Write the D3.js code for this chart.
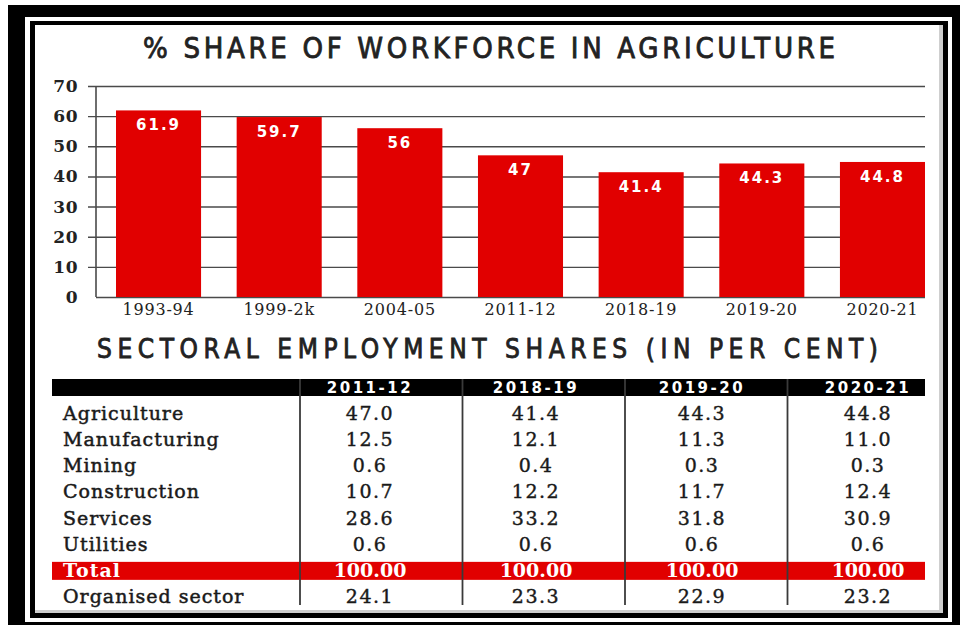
<!DOCTYPE html>
<html>
<head>
<meta charset="utf-8">
<script src="https://cdn.jsdelivr.net/npm/d3@7"></script>
<style>
  body { margin: 0; background: #fff; }
  svg { display: block; }
</style>
</head>
<body>
<div id="chartid"></div>
<script>
"use strict"

// bar chart data
var periods = ["1993-94","1999-2k","2004-05","2011-12","2018-19","2019-20","2020-21"];
var agriShare = [61.9, 59.7, 56, 47, 41.4, 44.3, 44.8];
var yTicks = [0, 10, 20, 30, 40, 50, 60, 70];

// table data
var tableYears = ["2011-12","2018-19","2019-20","2020-21"];
var sectors = ["Agriculture","Manufacturing","Mining","Construction","Services","Utilities","Total","Organised sector"];
var agriculture   = [47.0, 41.4, 44.3, 44.8];
var manufacturing = [12.5, 12.1, 11.3, 11.0];
var mining        = [0.6, 0.4, 0.3, 0.3];
var construction  = [10.7, 12.2, 11.7, 12.4];
var services      = [28.6, 33.2, 31.8, 30.9];
var utilities     = [0.6, 0.6, 0.6, 0.6];
var total         = [100, 100, 100, 100];
var organised     = [24.1, 23.3, 22.9, 23.2];

var RED = "#e10000";
var serif = "'DejaVu Serif', serif";
var sans = "'DejaVu Sans', sans-serif";
var cond = "'DejaVu Sans Condensed', 'DejaVu Sans', sans-serif";

var svg = d3.select("#chartid").append("svg")
  .attr("width", 960)
  .attr("height", 625);

// frame (double black border)
svg.append("rect").attr("x", 8).attr("y", 5).attr("width", 952).attr("height", 620).attr("fill", "#000");
svg.append("rect").attr("x", 25).attr("y", 17).attr("width", 927).attr("height", 605).attr("fill", "#fff");
svg.append("rect").attr("x", 30).attr("y", 21).attr("width", 918).attr("height", 597).attr("fill", "#000");
svg.append("rect").attr("x", 35).attr("y", 25).attr("width", 908).attr("height", 588).attr("fill", "#fff");
// soft inner shadow on right / bottom
svg.append("rect").attr("x", 939).attr("y", 25).attr("width", 4).attr("height", 588).attr("fill", "#cfcfcf");
svg.append("rect").attr("x", 35).attr("y", 610).attr("width", 908).attr("height", 3).attr("fill", "#cfcfcf");

// title
svg.append("text")
  .attr("x", 489).attr("y", 58)
  .attr("text-anchor", "middle")
  .attr("font-family", cond)
  .attr("font-size", 29)
  .attr("fill", "#222")
  .attr("stroke", "#222")
  .attr("stroke-width", 0.8)
  .attr("textLength", 692)
  .attr("lengthAdjust", "spacing")
  .text("% SHARE OF WORKFORCE IN AGRICULTURE");

// scales
var scale_y = d3.scaleLinear()
  .domain([0, 70])
  .range([297, 86]);

var scale_x = d3.scaleBand()
  .domain(periods)
  .range([116, 925])
  .paddingInner(0.295)
  .paddingOuter(0);

// gridlines + y labels
var gridRight = 925, gridLeft = 88, axisX = 96;
var yAxis = svg.append("g")
  .attr("transform", "translate(" + gridRight + ",0)")
  .call(d3.axisLeft(scale_y).tickValues(yTicks).tickSize(gridRight - gridLeft).tickPadding(10));
yAxis.select(".domain").remove();
yAxis.selectAll(".tick line")
  .attr("stroke", "#4a4a4a")
  .attr("stroke-width", 1.4)
  .filter(function(d) { return d === 0; })
  .attr("x2", -(gridRight - axisX));
yAxis.selectAll(".tick text")
  .attr("font-family", serif)
  .attr("font-weight", "bold")
  .attr("font-size", 17)
  .attr("letter-spacing", 0.5)
  .attr("fill", "#222");

// vertical axis line
svg.append("line")
  .attr("x1", axisX).attr("x2", axisX)
  .attr("y1", scale_y(70)).attr("y2", scale_y(0))
  .attr("stroke", "#4a4a4a")
  .attr("stroke-width", 1.6);

// bars
svg.selectAll(".bar")
  .data(agriShare)
  .enter().append("rect")
  .attr("class", "bar")
  .attr("x", function(d, i) { return scale_x(periods[i]); })
  .attr("y", function(d) { return scale_y(d); })
  .attr("width", scale_x.bandwidth())
  .attr("height", function(d) { return scale_y(0) - scale_y(d); })
  .attr("fill", RED);

// value labels in bars
svg.selectAll(".barlabel")
  .data(agriShare)
  .enter().append("text")
  .attr("class", "barlabel")
  .attr("x", function(d, i) { return scale_x(periods[i]) + scale_x.bandwidth() / 2; })
  .attr("y", function(d) { return scale_y(d) + 20; })
  .attr("text-anchor", "middle")
  .attr("font-family", sans)
  .attr("font-weight", "bold")
  .attr("font-size", 15)
  .attr("letter-spacing", 2)
  .attr("fill", "#fff")
  .text(function(d) { return String(d); });

// x axis labels
var xAxis = svg.append("g")
  .attr("transform", "translate(0," + scale_y(0) + ")")
  .call(d3.axisBottom(scale_x).tickSize(0).tickPadding(7));
xAxis.select(".domain").remove();
xAxis.selectAll(".tick text")
  .attr("font-family", serif)
  .attr("font-size", 16)
  .attr("letter-spacing", 0.8)
  .attr("fill", "#222");

// ---- table ----
svg.append("text")
  .attr("x", 487.5).attr("y", 358)
  .attr("text-anchor", "middle")
  .attr("font-family", cond)
  .attr("font-size", 26)
  .attr("fill", "#222")
  .attr("stroke", "#222")
  .attr("stroke-width", 0.8)
  .attr("textLength", 781)
  .attr("lengthAdjust", "spacing")
  .text("SECTORAL EMPLOYMENT SHARES (IN PER CENT)");

var tableLeft = 52, tableRight = 925;
var colBand = d3.scaleBand().domain(tableYears).range([300, 950]);
var colText = d3.scalePoint().domain(tableYears).range([370, 868]);
var rowY = d3.scalePoint().domain(sectors).range([420, 603]);

var rowsData = [agriculture, manufacturing, mining, construction, services, utilities, total, organised];

// header bar
svg.append("rect")
  .attr("x", tableLeft).attr("y", 379)
  .attr("width", tableRight - tableLeft).attr("height", 17)
  .attr("fill", "#000");

// total bar
svg.append("rect")
  .attr("x", tableLeft).attr("y", rowY("Total") - 15)
  .attr("width", tableRight - tableLeft).attr("height", 18)
  .attr("fill", RED);

// column separators
svg.selectAll(".sep")
  .data(tableYears)
  .enter().append("line")
  .attr("class", "sep")
  .attr("x1", function(d) { return colBand(d); })
  .attr("x2", function(d) { return colBand(d); })
  .attr("y1", 379).attr("y2", 605)
  .attr("stroke", "#3a3a3a")
  .attr("stroke-width", 1.8);

// header labels
svg.selectAll(".hdr")
  .data(tableYears)
  .enter().append("text")
  .attr("class", "hdr")
  .attr("x", function(d) { return colText(d); })
  .attr("y", 393)
  .attr("text-anchor", "middle")
  .attr("font-family", sans)
  .attr("font-weight", "bold")
  .attr("font-size", 15)
  .attr("letter-spacing", 2.5)
  .attr("fill", "#fff")
  .text(function(d) { return d; });

// row labels
svg.selectAll(".rowlabel")
  .data(sectors)
  .enter().append("text")
  .attr("class", "rowlabel")
  .attr("x", 63)
  .attr("y", function(d) { return rowY(d); })
  .attr("font-family", serif)
  .attr("font-weight", function(d) { return d === "Total" ? "bold" : "normal"; })
  .attr("font-size", 19)
  .attr("letter-spacing", 1)
  .attr("fill", function(d) { return d === "Total" ? "#fff" : "#1a1a1a"; })
  .attr("stroke", function(d) { return d === "Total" ? "none" : "#1a1a1a"; })
  .attr("stroke-width", 0.5)
  .text(function(d) { return d; });

// cells
var f1 = d3.format(".1f"), f2 = d3.format(".2f");
sectors.forEach(function(sec, r) {
  svg.selectAll(".cell-" + r)
    .data(rowsData[r])
    .enter().append("text")
    .attr("x", function(d, i) { return colText(tableYears[i]); })
    .attr("y", rowY(sec))
    .attr("text-anchor", "middle")
    .attr("font-family", serif)
    .attr("font-weight", sec === "Total" ? "bold" : "normal")
    .attr("font-size", 19)
    .attr("letter-spacing", sec === "Total" ? 0 : 1.5)
    .attr("fill", sec === "Total" ? "#fff" : "#1a1a1a")
    .attr("stroke", sec === "Total" ? "none" : "#1a1a1a")
    .attr("stroke-width", 0.4)
    .text(function(d) { return sec === "Total" ? f2(d) : f1(d); });
});
</script>
</body>
</html>
